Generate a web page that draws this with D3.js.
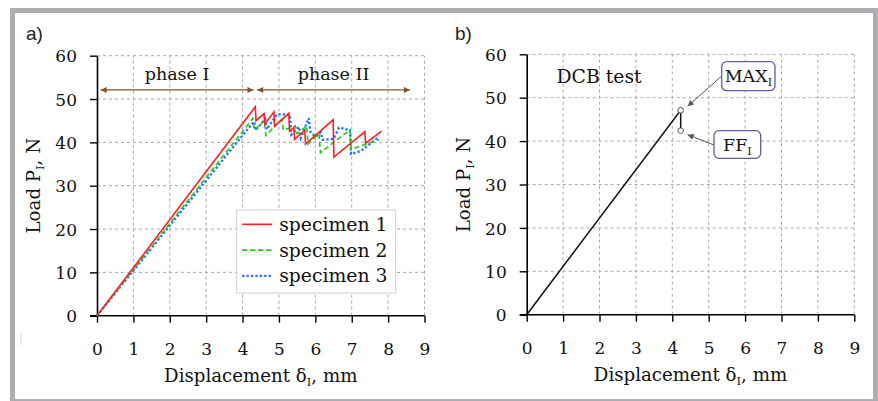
<!DOCTYPE html>
<html>
<head>
<meta charset="utf-8">
<script src="https://cdn.jsdelivr.net/npm/d3@7"></script>
<style>
  html, body { margin: 0; padding: 0; background: #fff; }
  svg { display: block; }
</style>
</head>
<body>
<svg id="chart" width="878" height="401"></svg>
<script>
// ---------------- data ----------------
const xTicks = [0, 1, 2, 3, 4, 5, 6, 7, 8, 9];
const yTicks = [0, 10, 20, 30, 40, 50, 60];
const seriesNames = ["specimen 1", "specimen 2", "specimen 3"];

// specimen 1 (displacement mm, load N)
const spec1 = [[0,0],[4.35,48.2],[4.37,45.0],[4.59,46.6],[4.61,44.2],[4.86,47.0],[4.88,43.7],
  [5.27,46.7],[5.29,42.6],[5.41,43.4],[5.43,40.7],[5.71,42.8],[5.73,39.6],[6.49,45.2],
  [6.51,36.6],[7.36,42.5],[7.38,39.8],[7.82,42.6]];
// specimen 2
const spec2 = [[0,0],[4.28,45.5],[4.32,42.8],[4.6,45.0],[4.64,41.6],[5.08,45.3],[5.12,42.8],
  [5.45,43.8],[5.5,42.0],[5.76,43.8],[5.8,39.6],[6.1,42.0],[6.14,37.6],[6.95,42.9],
  [6.98,38.3],[7.18,39.0],[7.75,40.6]];
// specimen 3
const spec3 = [[0,0],[4.25,44.2],[4.32,44.8],[4.36,42.8],[4.62,45.4],[4.66,43.0],[4.95,46.5],
  [5.3,46.4],[5.34,41.8],[5.55,43.6],[5.6,41.0],[5.82,45.6],[5.86,42.5],[6.0,41.3],
  [6.15,42.3],[6.2,40.6],[6.5,40.8],[6.65,43.4],[6.95,42.8],[6.98,37.3],[7.25,38.0],[7.75,41.3]];

// DCB test curve (panel b)
const dcbCurve = [[0,0],[4.23,47.1],[4.23,42.4]];
const maxPoint = [4.23, 47.1];
const ffPoint = [4.23, 42.4];

// phase annotations
const phaseNames = ["phase I", "phase II"];
const phaseRanges = [[0.1, 4.3], [4.4, 8.6]];
const phaseArrowY = 52.1;
const phaseLabelY = 54.4;

// ---------------- drawing ----------------
const svg = d3.select("#chart");
const SERIF = "DejaVu Serif";
const FS = 17;      // tick labels
const FT = 18.2;    // titles
const FL = 18.8;    // legend / DCB

// outer frame
svg.append("rect")
  .attr("x", 12.5).attr("y", 10.5).attr("width", 863).attr("height", 391)
  .attr("fill", "#fff").attr("stroke", "#aeaeb2").attr("stroke-width", 5);

// small artifact mark
svg.append("line").attr("x1", 21).attr("x2", 21).attr("y1", 333).attr("y2", 345)
  .attr("stroke", "#d6d6e4").attr("stroke-width", 1);

const defs = svg.append("defs");
function marker(id, color, w, h) {
  defs.append("marker").attr("id", id)
    .attr("viewBox", "0 0 10 10").attr("refX", 10).attr("refY", 5)
    .attr("markerUnits", "userSpaceOnUse")
    .attr("markerWidth", w).attr("markerHeight", h)
    .attr("orient", "auto-start-reverse")
    .append("path").attr("d", "M0,0 L10,5 L0,10 z").attr("fill", color);
}
marker("brownArrow", "#7d5431", 9, 6);
marker("grayArrow", "#555", 8, 6);

function panel(xRange, yRange, label, labelPos) {
  const x = d3.scaleLinear().domain([0, 9]).range(xRange);
  const y = d3.scaleLinear().domain([0, 60]).range(yRange);
  const g = svg.append("g");

  // grid
  g.append("g").selectAll("line.v").data(xTicks.slice(1)).join("line")
    .attr("x1", d => x(d)).attr("x2", d => x(d))
    .attr("y1", y(0)).attr("y2", y(60))
    .attr("stroke", "#a8a8a8").attr("stroke-width", 1).attr("stroke-dasharray", "3,3");
  g.append("g").selectAll("line.h").data(yTicks.slice(1)).join("line")
    .attr("x1", x(0)).attr("x2", x(9))
    .attr("y1", d => y(d)).attr("y2", d => y(d))
    .attr("stroke", "#a8a8a8").attr("stroke-width", 1).attr("stroke-dasharray", "3,3");

  // axes
  const ax = g.append("g").attr("transform", `translate(0,${y(0)})`)
    .call(d3.axisBottom(x).tickValues(xTicks).tickSize(7).tickSizeOuter(0));
  ax.select(".domain").attr("d", `M${x(0) - 7},0H${x(9)}`).attr("stroke-width", 1.6);
  ax.selectAll(".tick line").attr("stroke-width", 1.4);
  ax.selectAll(".tick text").attr("dy", null).attr("y", 39)
    .attr("font-family", SERIF).attr("font-size", FS).attr("fill", "#111");

  const ay = g.append("g").attr("transform", `translate(${x(0)},0)`)
    .call(d3.axisLeft(y).tickValues(yTicks).tickSize(7).tickSizeOuter(0));
  ay.select(".domain").attr("stroke-width", 1.6);
  ay.selectAll(".tick line").attr("stroke-width", 1.4);
  ay.selectAll(".tick text").attr("x", -20).attr("dy", "0.36em")
    .attr("font-family", SERIF).attr("font-size", FS).attr("fill", "#111");

  // axis titles
  const xt = g.append("text").attr("x", (xRange[0] + xRange[1]) / 2).attr("y", yRange[0] + 66)
    .attr("text-anchor", "middle").attr("font-family", SERIF).attr("font-size", FT).attr("fill", "#111");
  xt.append("tspan").text("Displacement δ");
  xt.append("tspan").attr("font-size", 11.5).attr("dy", 4).text("I");
  xt.append("tspan").attr("dy", -4).text(", mm");

  const yt = g.append("text")
    .attr("transform", `translate(${xRange[0] - 57},${(yRange[0] + yRange[1]) / 2}) rotate(-90)`)
    .attr("text-anchor", "middle").attr("font-family", SERIF).attr("font-size", FT).attr("fill", "#111");
  yt.append("tspan").text("Load P");
  yt.append("tspan").attr("font-size", 11.5).attr("dy", 4).text("I");
  yt.append("tspan").attr("dy", -4).text(", N");

  // panel letter
  svg.append("text").attr("x", labelPos[0]).attr("y", labelPos[1])
    .attr("font-family", "Liberation Sans").attr("font-size", 19).attr("fill", "#222").text(label);

  return { x, y, g };
}

// ---- panel a ----
const A = panel([97, 424.5], [315.7, 55.7], "a)", [26, 40]);
const line = d3.line().x(d => A.x(d[0])).y(d => A.y(d[1]));
const styles = [
  { color: "#ff1f1f", dash: null, width: 1.6 },
  { color: "#22c822", dash: "5,3", width: 1.6 },
  { color: "#1c6dff", dash: "2.2,2.2", width: 2.3 }
];
const allSeries = [spec1, spec2, spec3];
// draw in order 3,2,1 so red is on top
[2, 1, 0].forEach(i => {
  A.g.append("path").datum(allSeries[i]).attr("d", line)
    .attr("fill", "none").attr("stroke", styles[i].color)
    .attr("stroke-width", styles[i].width)
    .attr("stroke-dasharray", styles[i].dash);
});

// phase arrows
phaseRanges.forEach((r, i) => {
  A.g.append("line")
    .attr("x1", A.x(r[0])).attr("x2", A.x(r[1]))
    .attr("y1", A.y(phaseArrowY)).attr("y2", A.y(phaseArrowY))
    .attr("stroke", "#7d5431").attr("stroke-width", 1.3)
    .attr("marker-start", "url(#brownArrow)").attr("marker-end", "url(#brownArrow)");
  A.g.append("text").attr("x", A.x((r[0] + r[1]) / 2)).attr("y", A.y(phaseLabelY))
    .attr("text-anchor", "middle").attr("font-family", SERIF).attr("font-size", 17.5)
    .attr("fill", "#111").text(phaseNames[i]);
});

// legend
const lg = A.g.append("g").attr("transform", "translate(236.7,210)");
lg.append("rect").attr("width", 159).attr("height", 83)
  .attr("fill", "#fff").attr("stroke", "#cfcfcf").attr("stroke-width", 1);
seriesNames.forEach((n, i) => {
  const yy = 14.3 + i * 25.8;
  lg.append("line").attr("x1", 5.5).attr("x2", 35.5).attr("y1", yy).attr("y2", yy)
    .attr("stroke", styles[i].color).attr("stroke-width", styles[i].width)
    .attr("stroke-dasharray", styles[i].dash);
  lg.append("text").attr("x", 42.5).attr("y", yy + 6.5)
    .attr("font-family", SERIF).attr("font-size", FL).attr("fill", "#111").text(n);
});

// ---- panel b ----
const B = panel([526.7, 854.3], [314.7, 54.3], "b)", [455, 40]);
const lineB = d3.line().x(d => B.x(d[0])).y(d => B.y(d[1]));
B.g.append("path").datum(dcbCurve).attr("d", lineB)
  .attr("fill", "none").attr("stroke", "#111").attr("stroke-width", 1.5);
[maxPoint, ffPoint].forEach(p => {
  B.g.append("circle").attr("cx", B.x(p[0])).attr("cy", B.y(p[1])).attr("r", 2.8)
    .attr("fill", "#fff").attr("stroke", "#555").attr("stroke-width", 1);
});
B.g.append("text").attr("x", B.x(0.82)).attr("y", B.y(53.5))
  .attr("font-family", SERIF).attr("font-size", FL).attr("fill", "#111").text("DCB test");

function callout(bx, by, bw, bh, main, arrowFrom, target) {
  B.g.append("line")
    .attr("x1", arrowFrom[0]).attr("y1", arrowFrom[1])
    .attr("x2", target[0]).attr("y2", target[1])
    .attr("stroke", "#555").attr("stroke-width", 1)
    .attr("marker-end", "url(#grayArrow)");
  B.g.append("rect").attr("x", bx).attr("y", by).attr("width", bw).attr("height", bh)
    .attr("rx", 5).attr("fill", "#fff").attr("stroke", "#5f5f9e").attr("stroke-width", 1.3);
  const t = B.g.append("text").attr("x", bx + bw / 2).attr("y", by + bh / 2 + 6)
    .attr("text-anchor", "middle").attr("font-family", SERIF).attr("font-size", 17.5).attr("fill", "#111");
  t.append("tspan").text(main);
  t.append("tspan").attr("font-size", 11).attr("dy", 4).text("I");
}
callout(721.7, 61.7, 53.3, 29, "MAX", [721.7, 76], [B.x(maxPoint[0]) + 7, B.y(maxPoint[1]) - 4]);
callout(714, 130.7, 46.7, 27.6, "FF", [714, 145], [B.x(ffPoint[0]) + 7, B.y(ffPoint[1]) + 4]);
</script>
</body>
</html>
